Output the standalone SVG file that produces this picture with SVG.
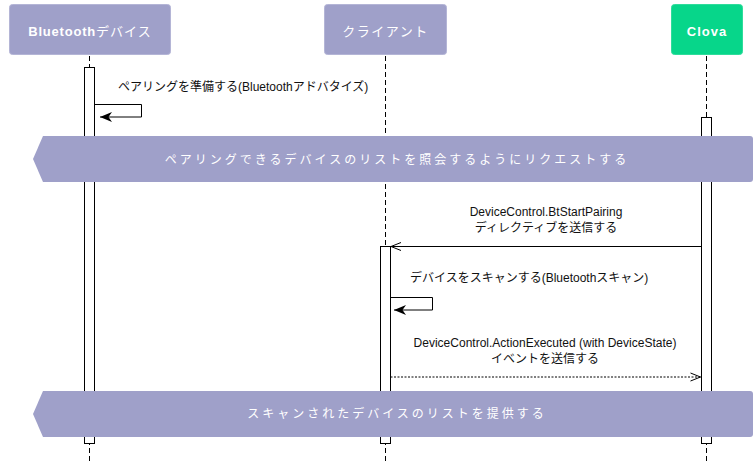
<svg xmlns="http://www.w3.org/2000/svg" width="753" height="463" viewBox="0 0 753 463">
  <style>
    .hdr { fill: #9FA0C9; stroke: #B4B5D6; stroke-width: 1; }
    .hdr-green { fill: #07D68A; stroke: #2FDC9B; stroke-width: 1; }
    .hdr-text { font-family: "Liberation Sans", "Noto Sans CJK JP", sans-serif; font-size: 13px; font-weight: bold; fill: #FFFFFF; text-anchor: middle; letter-spacing: 0.8px; }
    .cjk { font-weight: normal; }
    .life { stroke: #000; stroke-width: 1; stroke-dasharray: 5 3; fill: none; }
    .act { fill: #FFFFFF; stroke: #000; stroke-width: 1; }
    .band { fill: #9FA0C9; stroke: none; }
    .band-text { font-family: "Liberation Sans", "Noto Sans CJK JP", sans-serif; font-size: 12px; fill: #FFFFFF; text-anchor: middle; letter-spacing: 3px; }
    .lbl { font-family: "Liberation Sans", "Noto Sans CJK JP", sans-serif; font-size: 12px; fill: #111; }
    .mid { text-anchor: middle; }
    .msg { stroke: #000; stroke-width: 1; fill: none; }
    .dash { stroke-dasharray: 2 1.5; }
  </style>
  <defs>
    <marker id="open" viewBox="0 0 12 10" refX="11" refY="5" markerWidth="12" markerHeight="10" markerUnits="userSpaceOnUse" orient="auto">
      <path d="M1,1 L11,5 L1,9" fill="none" stroke="#000" stroke-width="1"/>
    </marker>
    <marker id="classic" viewBox="0 0 13 11" refX="12" refY="5.5" markerWidth="13" markerHeight="11" markerUnits="userSpaceOnUse" orient="auto">
      <path d="M0,0.5 L12,5.5 L0,10.5 L3.5,5.5 Z" fill="#000"/>
    </marker>
  </defs>

  <rect width="753" height="463" fill="#FFFFFF"/>

  <g id="lifelines">
    <line class="life" x1="89.5" y1="56" x2="89.5" y2="463"/>
    <line class="life" x1="385.5" y1="56" x2="385.5" y2="463"/>
    <line class="life" x1="706.5" y1="56" x2="706.5" y2="463"/>
  </g>

  <g id="node-bluetooth">
    <rect class="hdr" x="9.5" y="4.5" width="161" height="50" rx="3"/>
    <text class="hdr-text" x="90" y="35.5">Bluetooth<tspan class="cjk" style="letter-spacing:1px">デバイス</tspan></text>
    <rect class="act" x="84.5" y="67.5" width="10" height="376"/>
  </g>

  <g id="node-client">
    <rect class="hdr" x="324.5" y="4.5" width="122" height="50" rx="3"/>
    <text class="hdr-text cjk" x="385.5" y="35.5" style="letter-spacing:1.5px">クライアント</text>
    <rect class="act" x="380.5" y="246.5" width="10" height="197"/>
  </g>

  <g id="node-clova">
    <rect class="hdr-green" x="671.5" y="4.5" width="71" height="50" rx="3"/>
    <text class="hdr-text" x="707" y="35.5" style="letter-spacing:1px">Clova</text>
    <rect class="act" x="701.5" y="117.5" width="10" height="326"/>
  </g>

  <g id="connectors">
    <path class="msg" d="M94.5,104.5 H141.5 V117 H100" marker-end="url(#classic)"/>
    <path class="msg" d="M701.5,246.5 H391" marker-end="url(#open)"/>
    <path class="msg" d="M390.5,297.5 H432.5 V310 H394" marker-end="url(#classic)"/>
    <path class="msg dash" d="M390.5,377 H700.5" marker-end="url(#open)"/>
  </g>

  <g id="labels">
    <text class="lbl" x="118" y="91">ペアリングを準備する(Bluetoothアドバタイズ)</text>
    <text class="lbl mid" x="546" y="215.5">DeviceControl.BtStartPairing</text>
    <text class="lbl mid" x="546" y="231.5">ディレクティブを送信する</text>
    <text class="lbl" x="410" y="282">デバイスをスキャンする(Bluetoothスキャン)</text>
    <text class="lbl mid" x="545" y="346.5">DeviceControl.ActionExecuted (with DeviceState)</text>
    <text class="lbl mid" x="545" y="362.5">イベントを送信する</text>
  </g>

  <g id="note-request">
    <path class="band" d="M43,136 H750 Q753,136 753,139 V179 Q753,182 750,182 H43 L33,159 Z"/>
    <text class="band-text" x="397" y="163.5">ペアリングできるデバイスのリストを照会するようにリクエストする</text>
  </g>

  <g id="note-provide">
    <path class="band" d="M43,391 H750 Q753,391 753,394 V434 Q753,437 750,437 H43 L33,414 Z"/>
    <text class="band-text" x="397" y="418">スキャンされたデバイスのリストを提供する</text>
  </g>
</svg>
